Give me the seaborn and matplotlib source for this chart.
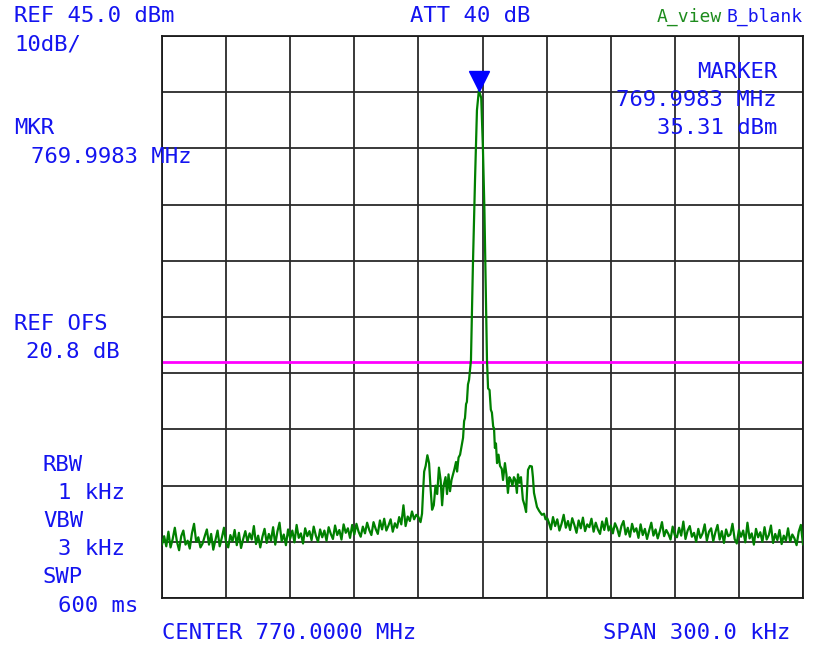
import numpy as np
import pandas as pd
import matplotlib
matplotlib.use("Agg")
import matplotlib.pyplot as plt
import matplotlib.transforms as mtransforms
import seaborn as sns

# ---------------- data (frequency offset in kHz from 770.0000 MHz, level in dBm) -------------
left_noise_freq = list(range(-150, -29))
left_noise_level = [
    -45.5, -44.0, -45.8, -43.2, -46.0, -44.5, -42.5, -45.0, -46.5, -44.0,
    -43.0, -45.5, -44.8, -46.2, -43.5, -41.8, -45.0, -44.2, -46.0, -45.3,
    -44.0, -42.8, -45.5, -43.6, -46.4, -44.7, -43.0, -45.8, -44.3, -42.5,
    -45.2, -46.0, -43.8, -44.9, -42.9, -45.6, -43.4, -46.1, -44.5, -43.1,
    -45.0, -43.5, -44.6, -42.2, -45.4, -43.9, -46.0, -44.1, -42.7, -45.2,
    -43.6, -44.8, -42.4, -45.5, -43.2, -41.6, -44.9, -43.7, -45.6, -42.8,
    -44.4, -43.0, -45.1, -42.0, -44.3, -43.5, -45.3, -42.6, -44.0, -43.1,
    -44.7, -42.3, -43.9, -45.0, -42.8, -44.2, -43.0, -44.8, -42.4, -43.6,
    -44.5, -42.1, -43.8, -42.9, -44.6, -41.9, -43.4, -42.6, -44.3, -42.0,
    -43.7, -41.8, -43.2, -44.1, -42.3, -43.5, -41.6, -42.9, -43.8, -41.5,
    -42.7, -43.6, -41.2, -42.8, -40.9, -43.0, -42.1, -41.0, -43.2, -41.7,
    -42.5, -40.6, -41.9, -38.5, -42.2, -40.5, -41.3, -39.6, -41.0, -40.2,
    -40.6,
]

carrier_freq = [
    -29.0, -28.3, -27.8, -27.3, -26.6, -25.8, -25.0, -24.3, -23.6, -22.8,
    -22.0, -21.2, -20.4, -19.6, -18.9, -18.2, -17.3, -16.6, -15.9, -15.2,
    -14.5, -13.8, -13.1, -12.4, -11.9, -11.2, -10.5, -9.8, -9.1, -8.6,
    -8.2, -7.7, -7.3, -6.8, -6.3, -5.4, -4.5, -3.5, -2.6, -1.7,
    -0.6, 0.2, 0.9, 1.6, 2.1, 2.6, 3.3, 3.9, 4.4, 5.0,
    5.4, 5.8, 6.3, 6.8, 7.5, 8.2, 9.0, 9.6, 10.5, 11.2,
    11.9, 12.6, 13.3, 14.0, 14.7, 15.4, 16.1, 16.6, 17.3, 18.0,
    18.9, 19.7, 20.4, 21.3, 22.2, 23.1, 23.6, 24.1, 25.5, 26.5,
    27.8, 28.8, 29.5, 30.3,
]
carrier_level = [
    -41.5, -40.0, -36.0, -32.5, -31.5, -29.6, -31.0, -35.5, -39.3, -38.5,
    -35.0, -36.5, -31.8, -34.0, -38.5, -35.0, -33.5, -36.5, -33.0, -36.0,
    -34.0, -33.0, -32.0, -30.8, -32.5, -30.0, -29.5, -28.0, -26.5, -23.5,
    -23.0, -20.5, -20.1, -17.0, -16.2, -12.7, 4.0, 19.4, 31.8, 35.31,
    34.0, 25.0, 14.0, -2.0, -12.7, -17.7, -18.0, -21.5, -22.0, -24.5,
    -24.8, -28.3, -27.5, -31.0, -29.5, -31.5, -32.0, -34.0, -31.0, -33.0,
    -36.3, -33.5, -34.0, -35.0, -33.5, -34.0, -36.3, -33.0, -34.5, -33.5,
    -37.5, -38.5, -39.7, -32.2, -31.5, -31.6, -33.5, -36.3, -38.8, -39.5,
    -40.2, -40.0, -41.0, -40.8,
]

right_noise_freq = list(range(31, 151))
right_noise_level = [
    -41.5, -42.8, -40.6, -42.2, -41.0, -43.0, -41.8, -40.2, -42.5, -41.3,
    -42.9, -40.8, -42.0, -43.4, -41.2, -42.6, -40.7, -43.1, -41.9, -42.4,
    -40.9, -43.2, -41.6, -42.8, -43.6, -41.4, -42.9, -40.8, -43.0, -42.1,
    -43.5, -41.7, -42.6, -44.0, -42.2, -41.3, -43.7, -42.5, -44.1, -41.8,
    -43.2, -42.6, -44.3, -41.9, -43.8, -42.7, -44.5, -43.0, -41.6, -43.9,
    -42.8, -44.4, -43.1, -41.5, -44.0, -42.9, -43.6, -44.6, -42.3, -43.8,
    -44.2, -42.5, -43.9, -41.4, -44.5, -43.0, -42.2, -44.1, -43.4, -45.0,
    -42.7, -44.3, -43.5, -41.9, -44.8, -43.2, -42.6, -44.9, -43.3, -42.0,
    -44.6, -43.1, -45.2, -42.8, -44.0, -43.7, -41.8, -44.5, -45.3, -42.9,
    -44.1, -43.0, -45.1, -41.6, -44.4, -43.5, -45.5, -42.7, -44.2, -43.3,
    -45.0, -42.4, -44.6, -43.8, -42.1, -45.2, -43.6, -44.7, -42.9, -45.4,
    -43.9, -44.8, -42.6, -45.0, -43.7, -44.4, -45.6, -43.2, -42.0, -45.5,
]

marker_freq = -1.7
marker_level = 35.31
display_line = -13.0

ref_level = 45.0
db_per_div = 10
span_khz = 300.0

# ---------------- figure ----------------
sns.set_style("white")
plt.rcParams["font.family"] = ["DejaVu Sans Mono", "DejaVu Sans"]

W, H = 814, 647
fig = plt.figure(figsize=(W / 100, H / 100), dpi=100)
ax = fig.add_axes([162 / W, (H - 598) / H, 641 / W, 562 / H])

df = pd.DataFrame({
    "freq": left_noise_freq + carrier_freq + right_noise_freq,
    "level": left_noise_level + carrier_level + right_noise_level,
})
sns.lineplot(data=df, x="freq", y="level", estimator=None, sort=False,
             color="#008000", lw=1.6, ax=ax, zorder=3)

ax.axhline(display_line, color="#FF00FF", lw=2.0, zorder=2.5)

ax.set_xlim(-span_khz / 2, span_khz / 2)
ax.set_ylim(ref_level - 10 * db_per_div, ref_level)
ax.set_xticks(np.linspace(-span_khz / 2, span_khz / 2, 11))
ax.set_yticks(np.arange(ref_level - 10 * db_per_div, ref_level + 1, db_per_div))
ax.set_xticklabels([])
ax.set_yticklabels([])
ax.tick_params(length=0)
ax.grid(True, color="#2a2a2a", lw=1.3, zorder=1)
ax.set_axisbelow(True)
ax.set_xlabel("")
ax.set_ylabel("")
for s in ax.spines.values():
    s.set_color("#1a1a1a")
    s.set_linewidth(1.3)

# marker triangle with tip on the peak
tr = mtransforms.offset_copy(ax.transData, fig=fig, x=0, y=7, units="points")
ax.plot([marker_freq], [marker_level], marker="v", ms=15, color="#0000FF",
        transform=tr, zorder=5, clip_on=False)

# ---------------- annotations ----------------
blue = "#1414F0"
fs = 16


def t(x, y, s, ha="left", color=blue, size=fs):
    fig.text(x / W, 1 - y / H, s, ha=ha, va="center", color=color, fontsize=size)


t(14, 16, "REF 45.0 dBm")
t(14, 45, "10dB/")
t(410, 16, "ATT 40 dB")
t(722, 17, "A_view", ha="right", color="#1E8C1E", size=13)
t(726, 17, "B_blank", color=blue, size=13)
t(777, 72, "MARKER", ha="right")
t(777, 100, "769.9983 MHz", ha="right")
t(777, 128, "35.31 dBm", ha="right")
t(14, 128, "MKR")
t(31, 157, "769.9983 MHz")
t(14, 324, "REF OFS")
t(26, 352, "20.8 dB")
t(43, 465, "RBW")
t(58, 493, "1 kHz")
t(43, 521, "VBW")
t(58, 549, "3 kHz")
t(43, 577, "SWP")
t(58, 606, "600 ms")
t(162, 633, "CENTER 770.0000 MHz")
t(790, 633, "SPAN 300.0 kHz", ha="right")

fig.savefig("out.png", dpi=100)
